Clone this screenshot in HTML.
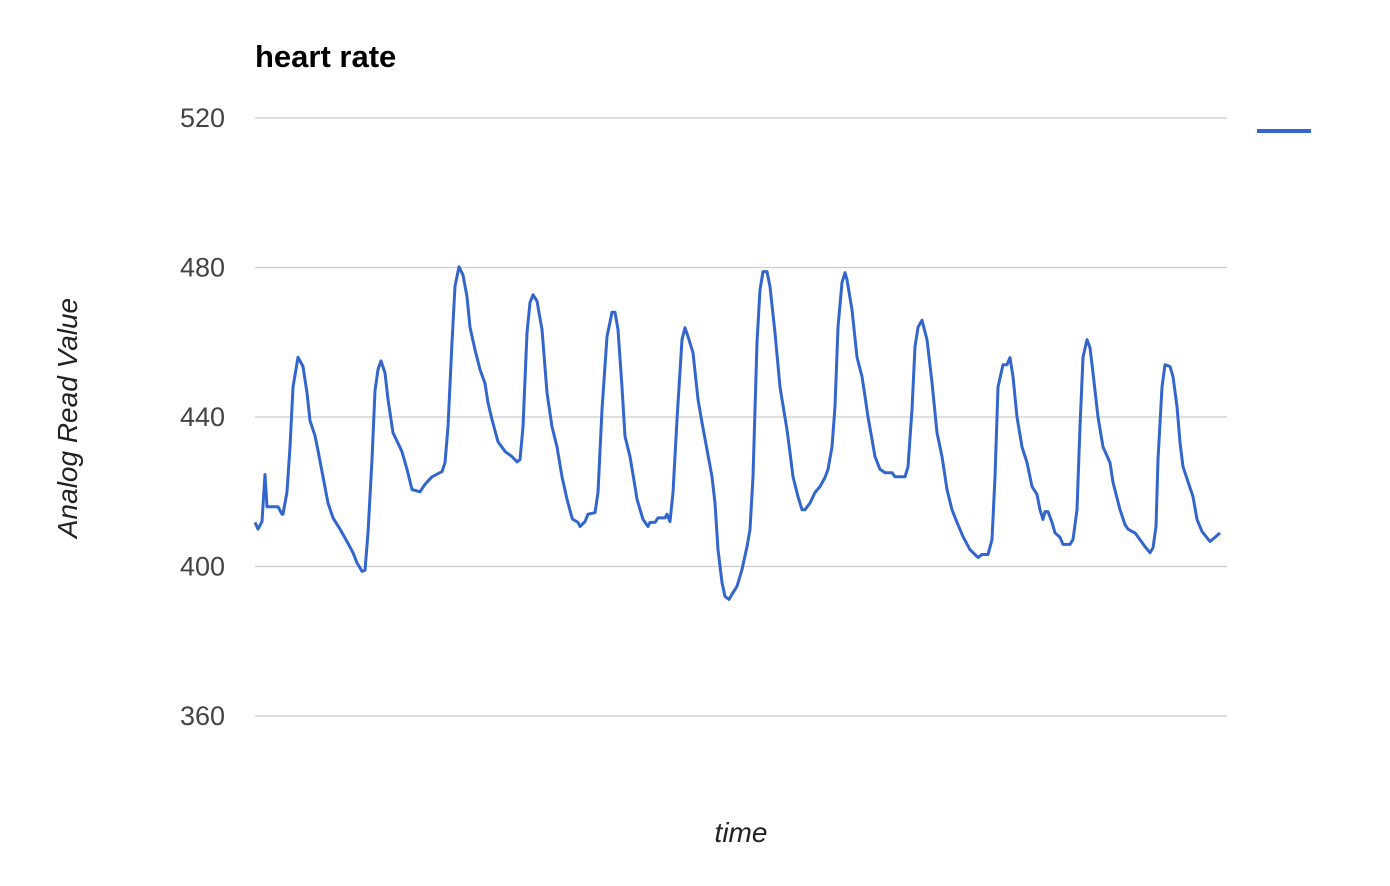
<!DOCTYPE html>
<html><head><meta charset="utf-8"><style>
html,body{margin:0;padding:0;background:#fff;}
svg{display:block;font-family:"Liberation Sans",Arial,sans-serif;}
</style></head><body>
<svg id="chart" width="1390" height="886" viewBox="0 0 1390 886">
<text x="255" y="67" font-size="31" font-weight="bold" fill="#000">heart rate</text>
<g id="grid"></g>
<g id="ylabels"></g>
<text transform="translate(77,418) rotate(-90)" text-anchor="middle" font-size="28" font-style="italic" fill="#222">Analog Read Value</text>
<text x="741" y="842" text-anchor="middle" font-size="28" font-style="italic" fill="#222">time</text>
<line x1="1257" y1="131" x2="1311" y2="131" stroke="#3366cc" stroke-width="4"/>
<path id="line" fill="none" stroke="#3366cc" stroke-width="3" stroke-linejoin="round"/>
</svg>
<script>
const yTicks = [360, 400, 440, 480, 520];
const times = [0,3,7,10,12,15,23,27,28,32,35,38,43,48,52,55,60,63,68,73,78,85,92,98,102,107,110,113,117,120,123,126,130,133,138,143,147,152,157,165,170,177,187,190,193,197,200,204,208,212,215,220,225,230,233,237,243,250,257,262,265,268,272,275,278,282,287,292,297,302,307,312,317,323,315.5,318,325,330,333,340,343,347,352,357,360,363,367,370,375,380,382,388,393,395,400,403,410,412,415,418,422,427,430,433,438,443,447,452,457,460,463,467,470,474,478,482,487,492,495,498,502,505,508,512,515,520,525,532,535,538,543,547,550,555,560,565,570,573,577,580,583,587,590,592,597,602,607,610,613,617,620,625,630,637,640,645,650,653,657,660,663,667,672,677,682,687,692,697,702,708,715,720,723,727,733,737,740,743,748,752,755,758,762,767,772,777,782,785,788,790,793,797,800,805,808,815,818,822,825,828,832,835,838,843,848,855,858,865,870,873,877,880,885,890,895,898,901,903,907,910,915,918,922,925,928,933,938,942,947,955,960,965,970];
const values = [411.8,410,412,424.6,416,416,416,414,414,420,432,448,456,453.5,446.5,439,435,431,424,417,413,410,406.7,403.7,401,398.7,399,409,428.6,447,452.7,455,451.8,444.7,435.8,433,430.7,426,420.6,420,422,424,425.4,427.8,437.4,460,475,480.2,478,472.2,464,458,452.7,449,443.8,439.3,433.4,430.8,429.4,428,428.6,437.4,462.5,470.6,472.7,471,463.4,446.5,437.4,432,424,418,413,411.8,417,412.6,410.7,412,414,414.4,419.8,442,461.5,468,468,463.4,448,434.8,429.4,421.4,418,412.6,410.7,411.8,411.8,413,413,414,412,419.8,439.3,460.7,463.9,461.5,457.2,444.7,438.5,431.3,424,417,404.5,395.7,392,391.2,393,394.7,399.2,405.3,409.9,424,460,474,478.9,478.9,474.9,462.5,448,436.6,430.5,424,418.7,415.2,415.2,417,419.8,421.4,423.8,426,432,442.8,464,476,478.6,476.7,468.7,456,450.8,445.5,440,434,429.4,426,425.1,425.1,424,424,424,426.7,442,458.8,464,465.9,460.7,449.2,435.8,429.4,420.6,415.2,411.8,408,404.5,403.2,402.4,403.2,403.2,407.2,424,448,454,454,455.9,450.8,440,432,427.8,421.4,419.3,415.2,412.6,414.7,414.7,411.8,409,407.8,405.9,405.9,407.2,415.2,437.4,456,460.7,458.5,451.8,440,432,427.8,422.5,415.2,411.2,410,409.4,409,407.2,405.3,403.7,405,410.7,428.6,448,454,453.5,450.8,442.8,433.2,426.7,422.7,418.7,412.6,409.4,406.7,407.8,409];

const pairs = times.map((t,i)=>[t,values[i]]).filter(p=>!(p[0]===315.5)).sort((a,b)=>a[0]-b[0]);

const X0=255, X1=1225, T0=0, T1=970;
const xScale = t => X0 + (t - T0) / (T1 - T0) * (X1 - X0);
const yScale = v => 716 - (v - 360) / (520 - 360) * (716 - 118);

const ns='http://www.w3.org/2000/svg';
const grid=document.getElementById('grid');
const yl=document.getElementById('ylabels');
yTicks.forEach(v=>{
  const l=document.createElementNS(ns,'line');
  l.setAttribute('x1',255);l.setAttribute('x2',1227);
  l.setAttribute('y1',yScale(v));l.setAttribute('y2',yScale(v));
  l.setAttribute('stroke','#cccccc');l.setAttribute('stroke-width','1.3');
  
  
  grid.appendChild(l);
  const tx=document.createElementNS(ns,'text');
  tx.setAttribute('x',225);tx.setAttribute('y',yScale(v)+9);
  tx.setAttribute('text-anchor','end');tx.setAttribute('font-size','27');
  tx.setAttribute('fill','#444');
  tx.textContent=v;
  
  
  yl.appendChild(tx);
});
let d='';
pairs.forEach((p,i)=>{d+=(i?'L':'M')+xScale(p[0]).toFixed(1)+' '+yScale(p[1]).toFixed(1);});
document.getElementById('line').setAttribute('d',d);
</script>
</body></html>
